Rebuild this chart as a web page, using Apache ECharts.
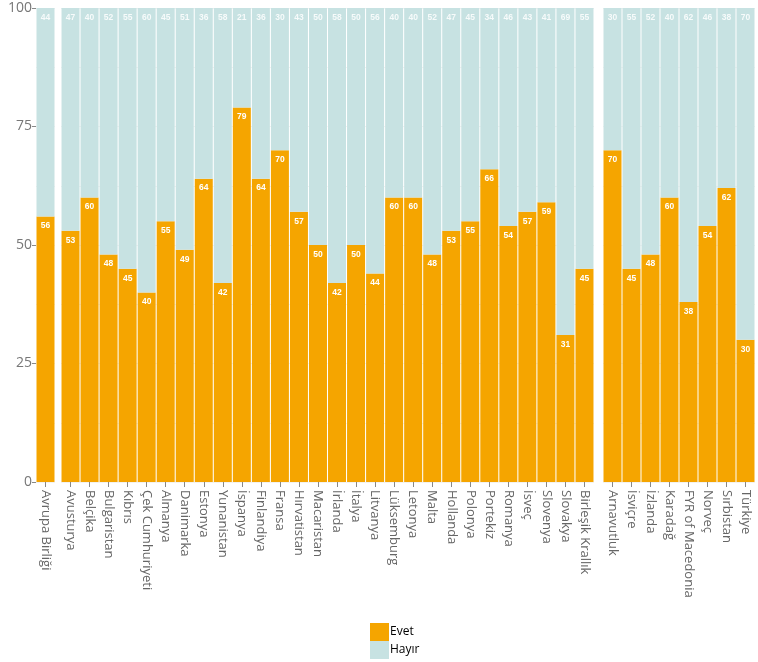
<!DOCTYPE html>
<html><head><meta charset="utf-8">
<script src="https://cdn.jsdelivr.net/npm/echarts@6/dist/echarts.min.js"></script>
<style>html,body{margin:0;padding:0;background:#fff}#c{width:758px;height:662px}</style>
</head><body><div id="c"></div>
<script>
const catsAB = ["Avrupa Birliği"];
const evetAB = [56];
const hayirAB = [44];
const catsEU = ["Avusturya","Belçika","Bulgaristan","Kıbrıs","Çek Cumhuriyeti","Almanya","Danimarka","Estonya","Yunanistan","İspanya","Finlandiya","Fransa","Hırvatistan","Macaristan","İrlanda","İtalya","Litvanya","Lüksemburg","Letonya","Malta","Hollanda","Polonya","Portekiz","Romanya","İsveç","Slovenya","Slovakya","Birleşik Krallık"];
const evetEU = [53,60,48,45,40,55,49,64,42,79,64,70,57,50,42,50,44,60,60,48,53,55,66,54,57,59,31,45];
const hayirEU = [47,40,52,55,60,45,51,36,58,21,36,30,43,50,58,50,56,40,40,52,47,45,34,46,43,41,69,55];
const catsOther = ["Arnavutluk","İsviçre","İzlanda","Karadağ","FYR of Macedonia","Norveç","Sırbistan","Türkiye"];
const evetOther = [70,45,48,60,38,54,62,30];
const hayirOther = [30,55,52,40,62,46,38,70];
const yTicks = [0,25,50,75,100];

const ORANGE = '#f5a500', BLUE = '#c7e2e2';
const font = 'Open Sans';
const groups = [
  {cats: catsAB, evet: evetAB, hayir: hayirAB, left: 36, width: 19},
  {cats: catsEU, evet: evetEU, hayir: hayirEU, left: 61, width: 533},
  {cats: catsOther, evet: evetOther, hayir: hayirOther, left: 603, width: 152}
];
const grid = [], xAxis = [], yAxis = [], series = [];
groups.forEach((g, i) => {
  grid.push({left: g.left, width: g.width, top: 8, bottom: 180});
  xAxis.push({type: 'category', gridIndex: i, data: g.cats,
    axisLine: {show: false},
    axisTick: {show: true, length: 5, alignWithLabel: true, lineStyle: {color: '#888'}},
    axisLabel: {rotate: -90, margin: 8, fontFamily: font, fontSize: 13, color: '#666', interval: 0}
  });
  yAxis.push({type: 'value', gridIndex: i, min: 0, max: 100, interval: 25,
    show: true,
    axisLine: {show: false},
    axisTick: {show: i === 0, length: 4, lineStyle: {color: '#888'}},
    axisLabel: {show: i === 0, fontFamily: font, fontSize: 14, color: '#777', margin: 4,
      formatter: v => yTicks.includes(v) ? String(v) : ''},
    splitLine: {show: true, lineStyle: {color: '#f2f2f2', width: 1}},
    minorTick: {show: false, splitNumber: 2},
    minorSplitLine: {show: true, lineStyle: {color: '#f2f2f2', width: 1}}
  });
  const lbl = {show: true, position: 'insideTop', distance: 5, color: '#fff', fontSize: 8.5,
    fontWeight: 'bold', fontFamily: 'Liberation Sans'};
  series.push({name: 'Evet', type: 'bar', stack: 's' + i, xAxisIndex: i, yAxisIndex: i,
    data: g.evet, barWidth: 18, itemStyle: {color: ORANGE}, label: lbl, z: 3});
  series.push({name: 'Hayır', type: 'bar', stack: 's' + i, xAxisIndex: i, yAxisIndex: i,
    data: g.hayir, barWidth: 18, itemStyle: {color: BLUE}, label: Object.assign({}, lbl, {color: 'rgba(255,255,255,0.85)'}), z: 3});
});
const chart = echarts.init(document.getElementById('c'), null, {renderer: 'canvas'});
chart.setOption({
  animation: false,
  grid, xAxis, yAxis, series,
  legend: {data: ['Evet', 'Hayır'], orient: 'vertical', left: 370, top: 623, padding: 0, itemWidth: 19, itemHeight: 18,
    itemGap: 0, icon: 'rect', textStyle: {fontFamily: font, fontSize: 12, color: '#000', padding: [0,0,0,-4]}}
});
</script></body></html>
